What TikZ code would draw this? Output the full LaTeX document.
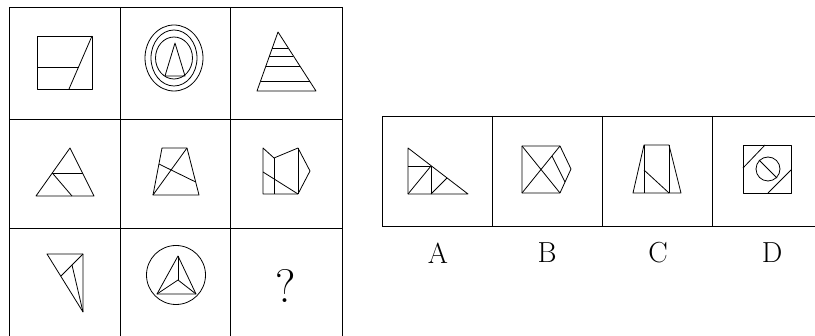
\documentclass[tikz,border=0pt]{standalone}
\usepackage{tikz}
\usetikzlibrary{calc}

\begin{document}
\begin{tikzpicture}[
    x=1pt, y=-1pt,
    rejilla/.style={line width=0.8pt},
    figura/.style={line width=0.8pt, line join=round},
    letra/.style={font=\fontsize{29}{29}\selectfont, inner sep=0pt}
  ]
  \useasboundingbox (0,0) rectangle (815,336);

  % --- Rejilla 3x3 ---
  \foreach \xr in {9,120,230,342} \draw[rejilla] (\xr,7) -- (\xr,336);
  \foreach \yr in {7,119,228} \draw[rejilla] (9,\yr) -- (342,\yr);

  % --- Fila 1 ---
  \draw[figura] (37,36) rectangle (92,89);
  \draw[figura] (92,36) -- (69,89);
  \draw[figura] (37,67) -- (78.5,67);

  \foreach \rx/\ry in {29/33, 23/28, 18.5/21}
    \draw[figura] (174,58) ellipse [x radius=\rx, y radius=\ry];
  \draw[figura] (175,43) -- (165,76) -- (185,76) -- cycle;

  \coordinate (pa) at (278,32);
  \coordinate (pb) at (257,91);
  \coordinate (pc) at (316,91);
  \draw[figura] (pa) -- (pb) -- (pc) -- cycle;
  \foreach \t in {0.271, 0.407, 0.576, 0.831}
    \draw[figura] ($(pa)!\t!(pb)$) -- ($(pa)!\t!(pc)$);

  % --- Fila 2 ---
  \draw[figura] (70,148) -- (36,196) -- (94,196) -- cycle;
  \draw[figura] (52.3,173) -- (82.5,173);
  \draw[figura] (52.3,173) -- (72,196);

  \draw[figura] (162,148) -- (187,148) -- (199,195) -- (153,195) -- cycle;
  \draw[figura] (153,195) -- (187,148);
  \draw[figura] (158.9,164) -- (195.7,182);

  \draw[figura] (263,148) -- (274,158) -- (298,148) -- (310,171) -- (298,194)
        -- (263,194) -- cycle;
  \draw[figura] (274,158) -- (274,194);
  \draw[figura] (298,148) -- (298,194);
  \draw[figura] (263,172) -- (298,194);

  % --- Fila 3 ---
  \draw[figura] (47,254) -- (83,254) -- (83,312) -- cycle;
  \draw[figura] (83,254) -- (61,276);
  \draw[figura] (72,265) -- (83,312);

  \draw[figura] (176,275) circle (29.5);
  \draw[figura] (178,256) -- (157,294) -- (196,294) -- cycle;
  \foreach \vx/\vy in {178/256, 157/294, 196/294}
    \draw[figura] (178,280) -- (\vx,\vy);

  \node[font=\fontsize{47}{47}\selectfont, inner sep=0pt] (incognita) at (286,286) {?};

  % --- Opciones ---
  \draw[rejilla] (815,116) -- (382,116) -- (382,226) -- (815,226);
  \foreach \xr in {492,602,712} \draw[rejilla] (\xr,116) -- (\xr,226);

  % A
  \draw[figura] (408,148) -- (408,194) -- (468,194) -- cycle;
  \draw[figura] (408,166) -- (431,166) -- (431,194);
  \draw[figura] (408,194) -- (431,166);
  \draw[figura] (431,194) -- (447,178);

  % B
  \draw[figura] (522,146) -- (560,146) -- (571,169) -- (560,193) -- (522,193) -- cycle;
  \draw[figura] (522,146) -- (560,193);
  \draw[figura] (522,193) -- (560,146);
  \draw[figura] (552,156) -- (565,182);

  % C
  \draw[figura] (644,145) -- (669,145) -- (681,193) -- (633,193) -- cycle;
  \draw[figura] (644,145) -- (644,193);
  \draw[figura] (669,145) -- (669,193);
  \draw[figura] (644,170) -- (669,193);

  % D
  \draw[figura] (743,145) rectangle (791,193);
  \draw[figura] (768,169) circle (12);
  \draw[figura] (759,160) -- (777,178);
  \draw[figura] (743,168) -- (765,145);
  \draw[figura] (768,193) -- (791,170);

  % --- Letras ---
  \node[letra] (letraA) at (438,253) {A};
  \node[letra] (letraB) at (547,253) {B};
  \node[letra] (letraC) at (658,253) {C};
  \node[letra] (letraD) at (772,253) {D};
\end{tikzpicture}
\end{document}
